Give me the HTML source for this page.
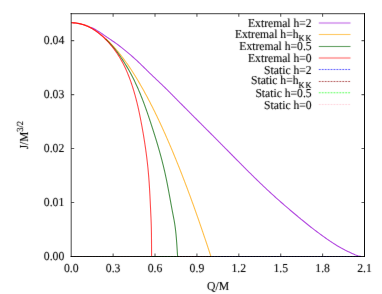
<!DOCTYPE html>
<html><head><meta charset="utf-8"><title>plot</title>
<style>html,body{margin:0;padding:0;background:#fff;}body{width:382px;height:294px;overflow:hidden;font-family:"Liberation Serif",serif;}</style>
</head><body>
<svg width="382" height="294" viewBox="0 0 382 294" style="display:block">
<rect width="382" height="294" fill="#fff"/>
<defs><filter id="b" x="0" y="0" width="100%" height="100%" filterUnits="userSpaceOnUse" color-interpolation-filters="sRGB"><feConvolveMatrix order="3" kernelMatrix="0.01 0.05 0.01 0.05 0.76 0.05 0.01 0.05 0.01" divisor="1" edgeMode="duplicate" preserveAlpha="false"/></filter></defs>
<g>
<rect width="382" height="294" fill="#fff"/>
<path d="M113.13,256.4v-3 M113.13,13.7v3 M155.02,256.4v-3 M155.02,13.7v3 M196.92,256.4v-3 M196.92,13.7v3 M238.81,256.4v-3 M238.81,13.7v3 M280.71,256.4v-3 M280.71,13.7v3 M322.60,256.4v-3 M322.60,13.7v3 M71.23,202.47h3 M364.5,202.47h-3 M71.23,148.53h3 M364.5,148.53h-3 M71.23,94.60h3 M364.5,94.60h-3 M71.23,40.67h3 M364.5,40.67h-3" stroke="#000" stroke-width="1.1" fill="none" stroke-opacity="0.62"/>
<g fill="none" stroke-width="1.1" stroke-opacity="0.7" stroke-linejoin="round" stroke-linecap="butt">
<path d="M71.45,22.76 L73.03,22.79 L74.60,22.87 L76.17,23.02 L77.73,23.22 L79.29,23.48 L80.83,23.79 L82.37,24.16 L83.89,24.58 L85.39,25.05 L86.88,25.56 L88.36,26.13 L89.81,26.73 L91.25,27.39" stroke="#ff0000" stroke-opacity="0.35"/>
<path d="M91.25,27.39 L92.66,28.08 L94.05,28.81 L95.43,29.58 L96.79,30.38 L98.13,31.20 L99.46,32.05 L100.78,32.91 L102.09,33.79 L103.39,34.68 L104.69,35.58 L105.98,36.47 L107.27,37.37 L108.57,38.27 L109.87,39.16 L111.18,40.04 L112.48,40.92 L113.78,41.81 L115.08,42.70 L116.37,43.61 L117.64,44.53 L118.90,45.48 L120.14,46.45 L121.37,47.43 L122.59,48.43 L123.81,49.43 L125.03,50.43 L126.25,51.42 L127.47,52.42 L128.69,53.42 L129.90,54.42 L131.11,55.44 L132.30,56.46 L133.48,57.50 L134.66,58.55 L135.82,59.62 L136.97,60.69 L138.11,61.77 L139.25,62.86 L140.39,63.96 L141.52,65.06 L142.64,66.16 L143.77,67.26 L144.89,68.37 L146.02,69.47 L147.14,70.57 L148.27,71.67 L149.40,72.77 L150.53,73.87 L151.66,74.96 L152.80,76.05 L153.94,77.14 L155.08,78.22 L156.22,79.30 L157.37,80.39 L158.51,81.47 L159.66,82.55 L160.80,83.64 L161.94,84.72 L163.07,85.81 L164.21,86.91 L165.33,88.01 L166.46,89.11 L167.58,90.22 L168.69,91.33 L169.81,92.45 L170.92,93.56 L172.03,94.68 L173.14,95.80 L174.24,96.92 L175.35,98.04 L176.46,99.16 L177.56,100.28 L178.67,101.40 L179.78,102.52 L180.89,103.64 L182.00,104.76 L183.11,105.87 L184.22,106.99 L185.33,108.11 L186.44,109.22 L187.55,110.34 L188.67,111.46 L189.78,112.57 L190.89,113.69 L192.00,114.80 L193.12,115.92 L194.23,117.03 L195.34,118.14 L196.45,119.26 L197.57,120.37 L198.68,121.49 L199.79,122.60 L200.91,123.71 L202.02,124.83 L203.13,125.94 L204.25,127.06 L205.36,128.17 L206.47,129.29 L207.59,130.40 L208.70,131.51 L209.81,132.63 L210.93,133.74 L212.04,134.86 L213.15,135.98 L214.26,137.09 L215.37,138.21 L216.48,139.32 L217.59,140.44 L218.70,141.56 L219.82,142.68 L220.92,143.79 L222.03,144.91 L223.14,146.03 L224.25,147.15 L225.36,148.27 L226.47,149.39 L227.57,150.51 L228.68,151.64 L229.79,152.76 L230.89,153.88 L232.00,155.00 L233.11,156.12 L234.21,157.24 L235.32,158.37 L236.43,159.49 L237.54,160.61 L238.64,161.73 L239.75,162.85 L240.86,163.96 L241.97,165.08 L243.08,166.20 L244.20,167.31 L245.31,168.43 L246.42,169.54 L247.54,170.65 L248.66,171.77 L249.77,172.87 L250.89,173.98 L252.02,175.09 L253.14,176.19 L254.26,177.30 L255.39,178.40 L256.52,179.50 L257.65,180.59 L258.78,181.69 L259.92,182.78 L261.05,183.87 L262.19,184.96 L263.33,186.04 L264.48,187.12 L265.62,188.20 L266.77,189.28 L267.92,190.35 L269.08,191.43 L270.24,192.49 L271.40,193.56 L272.56,194.62 L273.73,195.68 L274.89,196.73 L276.07,197.79 L277.24,198.84 L278.42,199.88 L279.60,200.93 L280.78,201.97 L281.96,203.01 L283.15,204.04 L284.34,205.08 L285.53,206.11 L286.72,207.14 L287.92,208.16 L289.11,209.19 L290.31,210.21 L291.52,211.23 L292.72,212.25 L293.92,213.26 L295.13,214.27 L296.34,215.28 L297.55,216.29 L298.76,217.30 L299.98,218.30 L301.19,219.30 L302.41,220.30 L303.63,221.30 L304.85,222.29 L306.08,223.28 L307.31,224.27 L308.54,225.25 L309.78,226.22 L311.01,227.20 L312.26,228.16 L313.51,229.13 L314.76,230.08 L316.01,231.03 L317.27,231.98 L318.53,232.92 L319.80,233.86 L321.07,234.79 L322.34,235.72 L323.62,236.64 L324.91,237.55 L326.20,238.45 L327.49,239.35 L328.79,240.25 L330.09,241.13 L331.40,242.00 L332.72,242.87 L334.04,243.73 L335.37,244.57 L336.71,245.41 L338.05,246.23 L339.41,247.03 L340.77,247.82 L342.15,248.58 L343.54,249.32 L344.94,250.04 L346.36,250.73 L347.78,251.40 L349.21,252.07 L350.64,252.73 L352.08,253.38 L353.51,254.03 L354.96,254.66 L356.43,255.23 L357.91,255.73 L359.44,256.13 L361.00,256.40" stroke="#9400d3"/>
<path d="M71.23,22.76 L72.41,22.78 L73.59,22.84 L74.77,22.93 L75.95,23.06 L77.12,23.23 L78.28,23.43 L79.44,23.67 L80.59,23.94 L81.74,24.25 L82.87,24.59 L83.99,24.95 L85.11,25.35 L86.21,25.78 L87.30,26.23 L88.38,26.72 L89.45,27.22 L90.51,27.75 L91.55,28.31 L92.58,28.88 L93.60,29.48 L94.61,30.09 L95.61,30.73 L96.60,31.38 L97.57,32.05 L98.53,32.74 L99.49,33.44 L100.43,34.16 L101.36,34.89 L102.27,35.63 L103.18,36.39 L104.08,37.16 L104.97,37.94 L105.85,38.73" stroke="#ff0000" stroke-opacity="0.35"/>
<path d="M105.85,38.73 L106.72,39.54 L107.57,40.35 L108.42,41.17 L109.27,42.00 L110.10,42.84 L110.92,43.69 L111.74,44.55 L112.54,45.41 L113.34,46.29 L114.13,47.16 L114.92,48.05 L115.69,48.94 L116.46,49.84 L117.23,50.74 L117.98,51.65 L118.73,52.57 L119.47,53.49 L120.21,54.42 L120.94,55.35 L121.66,56.28 L122.38,57.22 L123.09,58.17 L123.80,59.12 L124.50,60.07 L125.19,61.03 L125.88,61.99 L126.56,62.95 L127.24,63.92 L127.92,64.89 L128.59,65.87 L129.25,66.84 L129.91,67.83 L130.57,68.81 L131.22,69.80 L131.86,70.79 L132.50,71.78 L133.14,72.78 L133.77,73.78 L134.40,74.78 L135.03,75.78 L135.65,76.79 L136.27,77.80 L136.88,78.81 L137.49,79.82 L138.10,80.84 L138.70,81.85 L139.30,82.87 L139.90,83.89 L140.49,84.92 L141.08,85.94 L141.66,86.97 L142.25,88.00 L142.83,89.03 L143.40,90.06 L143.98,91.10 L144.55,92.13 L145.11,93.17 L145.68,94.21 L146.24,95.25 L146.80,96.29 L147.35,97.34 L147.91,98.38 L148.46,99.43 L149.01,100.48 L149.55,101.53 L150.10,102.58 L150.64,103.63 L151.17,104.68 L151.71,105.74 L152.24,106.79 L152.77,107.85 L153.30,108.91 L153.83,109.97 L154.35,111.03 L154.87,112.09 L155.39,113.15 L155.91,114.21 L156.42,115.28 L156.94,116.34 L157.45,117.41 L157.96,118.48 L158.46,119.55 L158.97,120.62 L159.47,121.69 L159.97,122.76 L160.47,123.83 L160.97,124.90 L161.46,125.98 L161.95,127.05 L162.44,128.13 L162.93,129.20 L163.42,130.28 L163.91,131.36 L164.39,132.44 L164.87,133.52 L165.36,134.60 L165.83,135.68 L166.31,136.76 L166.79,137.85 L167.26,138.93 L167.73,140.01 L168.20,141.10 L168.67,142.18 L169.14,143.27 L169.61,144.36 L170.07,145.44 L170.54,146.53 L171.00,147.62 L171.46,148.71 L171.92,149.80 L172.37,150.89 L172.83,151.98 L173.28,153.07 L173.74,154.17 L174.19,155.26 L174.64,156.35 L175.09,157.45 L175.54,158.54 L175.98,159.64 L176.43,160.73 L176.87,161.83 L177.31,162.92 L177.75,164.02 L178.19,165.12 L178.63,166.22 L179.07,167.32 L179.51,168.42 L179.94,169.52 L180.38,170.62 L180.81,171.72 L181.24,172.82 L181.67,173.92 L182.10,175.02 L182.53,176.12 L182.95,177.23 L183.38,178.33 L183.80,179.43 L184.23,180.54 L184.65,181.64 L185.07,182.75 L185.49,183.85 L185.91,184.96 L186.33,186.06 L186.75,187.17 L187.16,188.28 L187.58,189.39 L187.99,190.49 L188.40,191.60 L188.82,192.71 L189.23,193.82 L189.64,194.93 L190.05,196.04 L190.46,197.15 L190.86,198.26 L191.27,199.37 L191.67,200.48 L192.08,201.59 L192.48,202.70 L192.88,203.81 L193.29,204.93 L193.69,206.04 L194.09,207.15 L194.48,208.27 L194.88,209.38 L195.28,210.49 L195.68,211.61 L196.07,212.72 L196.47,213.84 L196.86,214.95 L197.25,216.07 L197.64,217.18 L198.03,218.30 L198.41,219.42 L198.80,220.54 L199.19,221.66 L199.57,222.77 L199.96,223.89 L200.35,225.01 L200.73,226.13 L201.12,227.24 L201.51,228.36 L201.89,229.48 L202.28,230.60 L202.67,231.71 L203.05,232.83 L203.43,233.95 L203.80,235.07 L204.18,236.20 L204.56,237.32 L204.94,238.44 L205.32,239.56 L205.69,240.68 L206.07,241.80 L206.44,242.92 L206.82,244.04 L207.19,245.17 L207.56,246.29 L207.93,247.41 L208.30,248.53 L208.68,249.66 L209.04,250.78 L209.41,251.90 L209.78,253.03 L210.15,254.15 L210.52,255.28 L210.88,256.40" stroke="#ffa500"/>
<path d="M71.45,22.76 L72.59,22.78 L73.72,22.84 L74.86,22.93 L75.98,23.06 L77.11,23.23 L78.23,23.42 L79.34,23.65 L80.45,23.91 L81.54,24.20 L82.64,24.52 L83.72,24.86 L84.79,25.24 L85.86,25.64 L86.91,26.06 L87.95,26.51 L88.98,26.99 L90.01,27.49 L91.01,28.01 L92.01,28.56 L92.99,29.13 L93.96,29.72 L94.92,30.33 L95.86,30.96 L96.79,31.61 L97.72,32.28 L98.63,32.96 L99.52,33.65 L100.41,34.36 L101.29,35.08 L102.16,35.82 L103.01,36.56 L103.86,37.32 L104.70,38.09 L105.52,38.87" stroke="#ff0000" stroke-opacity="0.35"/>
<path d="M105.52,38.87 L106.34,39.66 L107.15,40.46 L107.95,41.27 L108.74,42.09 L109.52,42.92 L110.29,43.76 L111.05,44.61 L111.80,45.46 L112.55,46.33 L113.28,47.20 L114.01,48.08 L114.73,48.97 L115.44,49.86 L116.14,50.76 L116.84,51.67 L117.52,52.59 L118.20,53.51 L118.87,54.44 L119.54,55.37 L120.19,56.30 L120.84,57.25 L121.48,58.19 L122.12,59.14 L122.74,60.10 L123.37,61.06 L123.98,62.02 L124.59,62.98 L125.19,63.95 L125.78,64.92 L126.37,65.89 L126.96,66.87 L127.53,67.85 L128.10,68.83 L128.66,69.81 L129.22,70.80 L129.77,71.79 L130.32,72.79 L130.85,73.78 L131.39,74.78 L131.91,75.79 L132.43,76.79 L132.94,77.80 L133.45,78.82 L133.95,79.83 L134.45,80.85 L134.94,81.87 L135.43,82.90 L135.90,83.92 L136.38,84.95 L136.85,85.98 L137.31,87.02 L137.77,88.06 L138.23,89.09 L138.67,90.14 L139.12,91.18 L139.56,92.23 L140.00,93.27 L140.43,94.33 L140.85,95.38 L141.28,96.43 L141.70,97.49 L142.11,98.55 L142.52,99.60 L142.93,100.67 L143.34,101.73 L143.74,102.79 L144.14,103.86 L144.53,104.93 L144.92,106.00 L145.31,107.07 L145.70,108.14 L146.08,109.21 L146.46,110.28 L146.83,111.36 L147.21,112.43 L147.58,113.51 L147.95,114.59 L148.32,115.66 L148.69,116.74 L149.05,117.82 L149.41,118.90 L149.77,119.98 L150.13,121.06 L150.49,122.15 L150.85,123.23 L151.20,124.31 L151.55,125.39 L151.91,126.47 L152.26,127.56 L152.61,128.64 L152.96,129.72 L153.30,130.81 L153.65,131.89 L153.99,132.97 L154.33,134.06 L154.67,135.14 L155.01,136.23 L155.35,137.32 L155.68,138.40 L156.02,139.49 L156.35,140.57 L156.68,141.66 L157.00,142.75 L157.33,143.84 L157.65,144.93 L157.97,146.02 L158.29,147.11 L158.60,148.20 L158.92,149.29 L159.23,150.38 L159.54,151.47 L159.84,152.56 L160.15,153.66 L160.45,154.75 L160.74,155.85 L161.04,156.94 L161.33,158.04 L161.62,159.13 L161.91,160.23 L162.19,161.33 L162.47,162.43 L162.75,163.53 L163.02,164.63 L163.30,165.73 L163.56,166.83 L163.83,167.93 L164.09,169.03 L164.35,170.14 L164.60,171.24 L164.85,172.35 L165.10,173.45 L165.34,174.56 L165.59,175.67 L165.82,176.78 L166.06,177.89 L166.29,179.00 L166.52,180.11 L166.74,181.22 L166.97,182.33 L167.19,183.44 L167.41,184.56 L167.62,185.67 L167.84,186.79 L168.05,187.90 L168.26,189.02 L168.47,190.13 L168.68,191.25 L168.89,192.36 L169.10,193.48 L169.30,194.60 L169.51,195.71 L169.71,196.83 L169.92,197.95 L170.12,199.06 L170.33,200.18 L170.53,201.30 L170.73,202.41 L170.94,203.53 L171.14,204.65 L171.35,205.77 L171.56,206.88 L171.76,208.00 L171.97,209.11 L172.18,210.23 L172.39,211.35 L172.60,212.46 L172.82,213.58 L173.03,214.69 L173.25,215.81 L173.47,216.92 L173.68,218.04 L173.89,219.15 L174.10,220.27 L174.29,221.38 L174.48,222.50 L174.67,223.62 L174.84,224.74 L175.00,225.87 L175.16,226.99 L175.31,228.12 L175.45,229.24 L175.58,230.37 L175.71,231.50 L175.83,232.63 L175.95,233.76 L176.06,234.89 L176.16,236.02 L176.26,237.15 L176.36,238.28 L176.45,239.41 L176.54,240.55 L176.63,241.68 L176.71,242.81 L176.79,243.95 L176.87,245.08 L176.94,246.21 L177.02,247.35 L177.09,248.48 L177.16,249.61 L177.24,250.74 L177.31,251.88 L177.38,253.01 L177.45,254.14 L177.53,255.27 L177.60,256.40" stroke="#006400"/>
<path d="M71.45,22.76 L72.56,22.78 L73.67,22.83 L74.78,22.92 L75.88,23.05 L76.98,23.20 L78.07,23.39 L79.16,23.61 L80.24,23.86 L81.31,24.14 L82.38,24.44 L83.44,24.77 L84.49,25.13 L85.54,25.51 L86.57,25.92 L87.60,26.35 L88.61,26.80 L89.61,27.28 L90.60,27.78 L91.57,28.31 L92.54,28.86 L93.48,29.44 L94.42,30.04 L95.33,30.66 L96.24,31.30 L97.14,31.96 L98.02,32.63 L98.89,33.32 L99.75,34.03 L100.60,34.74 L101.45,35.47 L102.28,36.21 L103.10,36.96 L103.91,37.72 L104.72,38.49 L105.51,39.27 L106.29,40.07 L107.07,40.87 L107.83,41.68 L108.58,42.50 L109.33,43.34 L110.06,44.18 L110.79,45.03 L111.50,45.89 L112.20,46.76 L112.90,47.63 L113.58,48.52 L114.25,49.41 L114.92,50.31 L115.57,51.22 L116.21,52.13 L116.84,53.05 L117.46,53.98 L118.08,54.92 L118.68,55.86 L119.27,56.80 L119.85,57.76 L120.42,58.72 L120.98,59.68 L121.53,60.65 L122.07,61.63 L122.59,62.61 L123.11,63.59 L123.62,64.58 L124.11,65.58 L124.60,66.57 L125.08,67.58 L125.55,68.58 L126.00,69.59 L126.45,70.60 L126.90,71.62 L127.33,72.64 L127.76,73.66 L128.17,74.69 L128.59,75.72 L128.99,76.75 L129.39,77.78 L129.78,78.82 L130.16,79.86 L130.54,80.90 L130.91,81.94 L131.27,82.99 L131.63,84.04 L131.98,85.09 L132.32,86.14 L132.66,87.19 L133.00,88.25 L133.33,89.31 L133.65,90.37 L133.96,91.43 L134.28,92.50 L134.58,93.56 L134.88,94.63 L135.18,95.70 L135.47,96.77 L135.76,97.85 L136.04,98.92 L136.31,100.00 L136.59,101.07 L136.86,102.15 L137.12,103.23 L137.38,104.31 L137.64,105.40 L137.89,106.48 L138.14,107.56 L138.38,108.65 L138.62,109.74 L138.86,110.82 L139.09,111.91 L139.32,113.00 L139.55,114.09 L139.78,115.18 L140.00,116.27 L140.22,117.36 L140.44,118.45 L140.65,119.55 L140.86,120.64 L141.07,121.73 L141.28,122.83 L141.48,123.92 L141.69,125.01 L141.89,126.11 L142.09,127.20 L142.29,128.29 L142.48,129.39 L142.68,130.48 L142.87,131.58 L143.06,132.67 L143.25,133.77 L143.43,134.86 L143.61,135.96 L143.80,137.05 L143.97,138.15 L144.15,139.24 L144.33,140.34 L144.50,141.44 L144.67,142.53 L144.84,143.63 L145.00,144.73 L145.16,145.82 L145.32,146.92 L145.48,148.02 L145.64,149.11 L145.79,150.21 L145.94,151.31 L146.09,152.41 L146.24,153.51 L146.38,154.61 L146.52,155.70 L146.66,156.80 L146.80,157.90 L146.93,159.00 L147.06,160.10 L147.19,161.20 L147.32,162.30 L147.44,163.41 L147.56,164.51 L147.68,165.61 L147.80,166.71 L147.91,167.81 L148.02,168.91 L148.12,170.02 L148.23,171.12 L148.33,172.22 L148.43,173.33 L148.52,174.43 L148.62,175.53 L148.71,176.64 L148.80,177.74 L148.88,178.85 L148.96,179.95 L149.04,181.06 L149.12,182.16 L149.20,183.27 L149.27,184.38 L149.34,185.48 L149.41,186.59 L149.48,187.69 L149.55,188.80 L149.61,189.91 L149.68,191.02 L149.74,192.12 L149.80,193.23 L149.86,194.34 L149.92,195.44 L149.98,196.55 L150.03,197.66 L150.09,198.77 L150.14,199.88 L150.20,200.98 L150.25,202.09 L150.30,203.20 L150.35,204.31 L150.41,205.42 L150.46,206.52 L150.51,207.63 L150.56,208.74 L150.61,209.85 L150.66,210.96 L150.71,212.06 L150.76,213.17 L150.81,214.28 L150.86,215.39 L150.92,216.49 L150.97,217.60 L151.02,218.71 L151.06,219.82 L151.11,220.93 L151.15,222.03 L151.19,223.14 L151.23,224.25 L151.26,225.36 L151.29,226.47 L151.32,227.57 L151.35,228.68 L151.37,229.79 L151.39,230.90 L151.41,232.01 L151.43,233.12 L151.44,234.23 L151.46,235.33 L151.47,236.44 L151.48,237.55 L151.49,238.66 L151.50,239.77 L151.51,240.88 L151.51,241.99 L151.52,243.10 L151.53,244.20 L151.53,245.31 L151.54,246.42 L151.54,247.53 L151.55,248.64 L151.55,249.75 L151.56,250.86 L151.57,251.97 L151.57,253.07 L151.58,254.18 L151.59,255.29 L151.60,256.40" stroke="#ff0000"/>
</g>
<path d="M71.23,256.46999999999997H361.94" stroke="#0000ff" stroke-dasharray="1.76,1.18" stroke-width="1.12" fill="none"/>
<path d="M71.23,256.46999999999997H210.88" stroke="#8b0000" stroke-dasharray="1.76,1.18" stroke-width="1.12" fill="none"/>
<path d="M71.23,256.46999999999997H177.89" stroke="#00ff00" stroke-dasharray="1.76,1.18" stroke-width="1.12" fill="none"/>
<path d="M71.23,256.46999999999997H151.86" stroke="#ffc0cb" stroke-dasharray="1.76,1.18" stroke-width="1.12" fill="none"/>
<path d="M71.23,256.9V13.1" fill="none" stroke="#000" stroke-width="1.2" stroke-opacity="0.6"/>
<path d="M70.63000000000001,13.7H365.0" fill="none" stroke="#000" stroke-width="1.2" stroke-opacity="0.6"/>
<path d="M364.5,13.1V256.9" fill="none" stroke="#000" stroke-width="1" stroke-opacity="0.95"/>
<path d="M70.63000000000001,256.46999999999997H365.0" fill="none" stroke="#000" stroke-width="1.12" stroke-opacity="0.9"/>
<g font-family="'Liberation Serif', serif" font-size="12.2px" fill="#000" stroke="#000" stroke-width="0.12" filter="url(#b)" text-rendering="geometricPrecision">
<text transform="translate(71.23,271.9) scale(0.96,1)" text-anchor="middle">0.0</text>
<text transform="translate(113.13,271.9) scale(0.96,1)" text-anchor="middle">0.3</text>
<text transform="translate(155.02,271.9) scale(0.96,1)" text-anchor="middle">0.6</text>
<text transform="translate(196.92,271.9) scale(0.96,1)" text-anchor="middle">0.9</text>
<text transform="translate(238.81,271.9) scale(0.96,1)" text-anchor="middle">1.2</text>
<text transform="translate(280.71,271.9) scale(0.96,1)" text-anchor="middle">1.5</text>
<text transform="translate(322.60,271.9) scale(0.96,1)" text-anchor="middle">1.8</text>
<text transform="translate(364.50,271.9) scale(0.96,1)" text-anchor="middle">2.1</text>
<text transform="translate(64.3,260.00) scale(0.96,1)" text-anchor="end">0.00</text>
<text transform="translate(64.3,206.07) scale(0.96,1)" text-anchor="end">0.01</text>
<text transform="translate(64.3,152.13) scale(0.96,1)" text-anchor="end">0.02</text>
<text transform="translate(64.3,98.20) scale(0.96,1)" text-anchor="end">0.03</text>
<text transform="translate(64.3,44.27) scale(0.96,1)" text-anchor="end">0.04</text>
<text transform="translate(218,289.6) scale(0.96,1)" text-anchor="middle">Q/M</text>
<text transform="translate(28.0,149.3) rotate(-90) scale(0.92,1)">J/M<tspan font-size="9.3px" dy="-5.5">3/2</tspan></text>
<text transform="translate(311.6,27.20) scale(0.952,1)" text-anchor="end">Extremal h=2</text>
<path d="M318.8,22.90H350.5" stroke="#9400d3" stroke-width="1.05" stroke-opacity="0.66" fill="none"/>
<text transform="translate(311.6,37.60) scale(0.952,1)" text-anchor="end">Extremal h=h<tspan font-size="8.7px" dy="3.4" letter-spacing="1.2">K</tspan><tspan font-size="8.7px">K</tspan></text>
<path d="M318.8,34.50H350.5" stroke="#ffa500" stroke-width="1.05" stroke-opacity="0.66" fill="none"/>
<text transform="translate(311.6,50.00) scale(0.952,1)" text-anchor="end">Extremal h=0.5</text>
<path d="M318.8,46.50H350.5" stroke="#006400" stroke-width="1.05" stroke-opacity="0.66" fill="none"/>
<text transform="translate(311.6,62.30) scale(0.952,1)" text-anchor="end">Extremal h=0</text>
<path d="M318.8,57.90H350.5" stroke="#ff0000" stroke-width="1.05" stroke-opacity="0.66" fill="none"/>
<text transform="translate(311.6,73.70) scale(0.952,1)" text-anchor="end">Static h=2</text>
<path d="M318.8,69.50H350.5" stroke="#0000ff" stroke-width="1.05" stroke-opacity="0.66" fill="none" stroke-dasharray="1.9,1.04"/>
<text transform="translate(311.6,84.15) scale(0.952,1)" text-anchor="end">Static h=h<tspan font-size="8.7px" dy="3.4" letter-spacing="1.2">K</tspan><tspan font-size="8.7px">K</tspan></text>
<path d="M318.8,81.55H350.5" stroke="#8b0000" stroke-width="1.05" stroke-opacity="0.66" fill="none" stroke-dasharray="1.9,1.04"/>
<text transform="translate(311.6,97.20) scale(0.952,1)" text-anchor="end">Static h=0.5</text>
<path d="M318.8,92.80H350.5" stroke="#00ff00" stroke-width="1.05" stroke-opacity="0.66" fill="none" stroke-dasharray="1.9,1.04"/>
<text transform="translate(311.6,109.10) scale(0.952,1)" text-anchor="end">Static h=0</text>
<path d="M318.8,104.50H350.5" stroke="#ffc0cb" stroke-width="1.05" stroke-opacity="0.66" fill="none" stroke-dasharray="1.9,1.04"/>
</g>
</g>
</svg>
</body></html>
